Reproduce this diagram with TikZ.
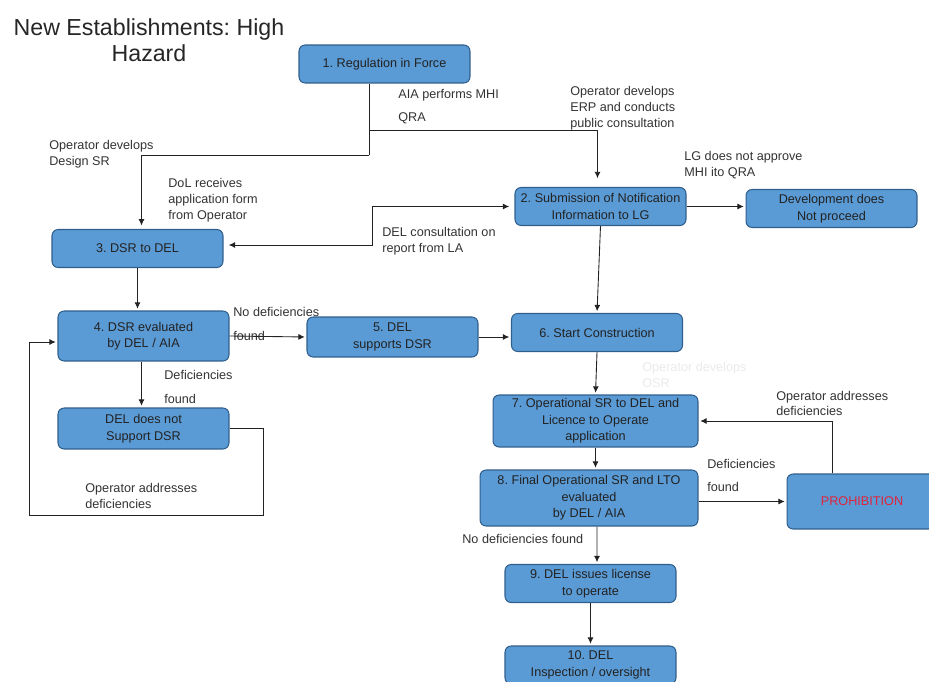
\documentclass[tikz,border=0pt]{standalone}
\usepackage{fontspec}
\setmainfont{Liberation Sans}
\usepackage{xcolor}
\usetikzlibrary{arrows.meta,positioning,calc}
\definecolor{boxblue}{HTML}{5B9BD5}
\definecolor{boxedge}{HTML}{2F5E8C}
\definecolor{ink}{HTML}{222222}
\definecolor{notegray}{HTML}{333333}
\definecolor{ghost}{HTML}{EAEAEA}
\definecolor{alarm}{HTML}{E0243A}
\frenchspacing

\begin{document}
\begin{tikzpicture}[
  x=0.02cm, y=-0.02cm,
  stepbox/.style={draw=boxedge, line width=0.6pt, rounded corners=3.5pt, fill=boxblue, minimum width=3.42cm, minimum height=0.76cm, align=center, inner sep=1pt, text=ink, font=\fontsize{7.2}{9.4}\selectfont},
  remark/.style={inner sep=0pt, anchor=west, align=left, text=notegray, font=\fontsize{7.2}{9}\selectfont},
  flow/.style={draw=ink, line width=0.5pt, -{Latex[length=3.6pt,width=3.4pt]}, shorten >=1pt},
  duplex/.style={draw=ink, line width=0.5pt, {Latex[length=3.6pt,width=3.4pt]}-{Latex[length=3.6pt,width=3.4pt]}, shorten >=3pt, shorten <=3pt},
  wire/.style={draw=ink, line width=0.5pt}
]
  \useasboundingbox (0,0) rectangle (929,682);
  \clip (0,0) rectangle (929,682);

  \node[align=center, text=black!85, font=\fontsize{13.2}{14.8}\selectfont] (title) at (149,40) {New Establishments: High\\Hazard};

  % boxes
  \node[stepbox] (reg) at (384.5,64) {1. Regulation in Force};
  \node[stepbox] (notif) at (600.5,206.5) {2. Submission of Notification\\Information to LG};
  \node[stepbox] (stop) at (831.5,208.5) {Development does\\Not proceed};
  \node[stepbox] (dsr) at (137.5,248.5) {3. DSR to DEL};
  \node[stepbox, minimum height=1cm] (eval) at (143.5,336) {4. DSR evaluated\\by DEL / AIA};
  \node[stepbox, minimum height=0.8cm] (supp) at (392.5,337) {5. DEL\\supports DSR};
  \node[stepbox] (build) at (597,332.5) {6. Start Construction};
  \node[stepbox, minimum height=0.82cm] (nosupp) at (143.5,428.5) {DEL does not\\Support DSR};
  \node[stepbox, minimum width=4.1cm, minimum height=1.04cm] (osr) at (595.5,421) {7. Operational SR to DEL and\\Licence to Operate\\application};
  \node[stepbox, minimum width=4.36cm, minimum height=1.12cm] (final) at (589,498) {8. Final Operational SR and LTO\\evaluated\\by DEL / AIA};
  \node[stepbox, minimum width=3cm, minimum height=1.1cm, text=alarm] (proh) at (862,501.5) {PROHIBITION};
  \node[stepbox] (lic) at (590.5,583.5) {9. DEL issues license\\to operate};
  \node[stepbox] (insp) at (590.5,665) {10. DEL\\Inspection / oversight};

  % labels
  \node[remark] (aia) at (398,106.5) {AIA performs MHI\\[4.5pt]QRA};
  \node[remark] (erp) at (570,108) {Operator develops\\ERP and conducts\\public consultation};
  \node[remark] (design) at (49,154.5) {Operator develops\\Design SR};
  \node[remark] (dol) at (168,200) {DoL receives\\application form\\from Operator};
  \node[remark] (lg) at (684,165) {LG does not approve\\MHI ito QRA};
  \node[remark] (consult) at (382,241) {DEL consultation on\\report from LA};
  \node[remark] (nodef) at (233,324) {No deficiencies\\[4.5pt]found};
  \node[remark] (def) at (164,387) {Deficiencies\\[4.5pt]found};
  \node[remark] (addr) at (85,496) {Operator addresses\\deficiencies};
  \node[remark, text=ghost] (osrnote) at (642,375) {Operator develops\\OSR};
  \node[remark] (addrtwo) at (776,403.5) {Operator addresses\\deficiencies};
  \node[remark] (deftwo) at (707,475.5) {Deficiencies\\[4.5pt]found};
  \node[remark] (nodeftwo) at (462,539) {No deficiencies found};

  % connectors
  \coordinate (split) at (369,130);
  \coordinate (bend) at (369,155);
  \coordinate (relay) at (372,245);
  \coordinate (loopa) at (263,515);
  \coordinate (loopb) at (29,342);
  \coordinate (back) at (832,419);
  \draw[wire] (reg.south -| split) -- (bend);
  \draw[flow, shorten >=2pt] (bend) -| ($(dsr.north)+(4,0)$);
  \draw[flow, shorten >=5pt] (split) -| ($(notif.north)+(-3,0)$);
  \draw[duplex] (notif.west) -| (relay) -- (relay -| dsr.east);
  \draw[flow] (notif.east) -- (notif.east -| stop.west);
  \draw[flow] (notif.south) -- (build.north);
  \draw[flow] (dsr.south) -- (dsr.south |- eval.north);
  \draw[flow] (eval.east) -- (supp.west);
  \draw[flow] (supp.east) -- (supp.east -| build.west);
  \draw[flow] ($(eval.south)+(-2,0)$) -- ($(nosupp.north)+(-2,0)$);
  \draw[flow] (nosupp.east) -| (loopa) -| (loopb) -- (loopb -| eval.west);
  \draw[flow] (build.south) -- (osr.north);
  \draw[flow] (osr.south) -- (osr.south |- final.north);
  \draw[flow] (proh.west -| final.east) -- (proh.west);
  \draw[flow] (proh.north -| back) |- (osr.east);
  \draw[flow] ($(final.south)+(8,0)$) -- ($(lic.north)+(6.5,0)$);
  \draw[flow] (lic.south) -- (insp.north);
\end{tikzpicture}
\end{document}
